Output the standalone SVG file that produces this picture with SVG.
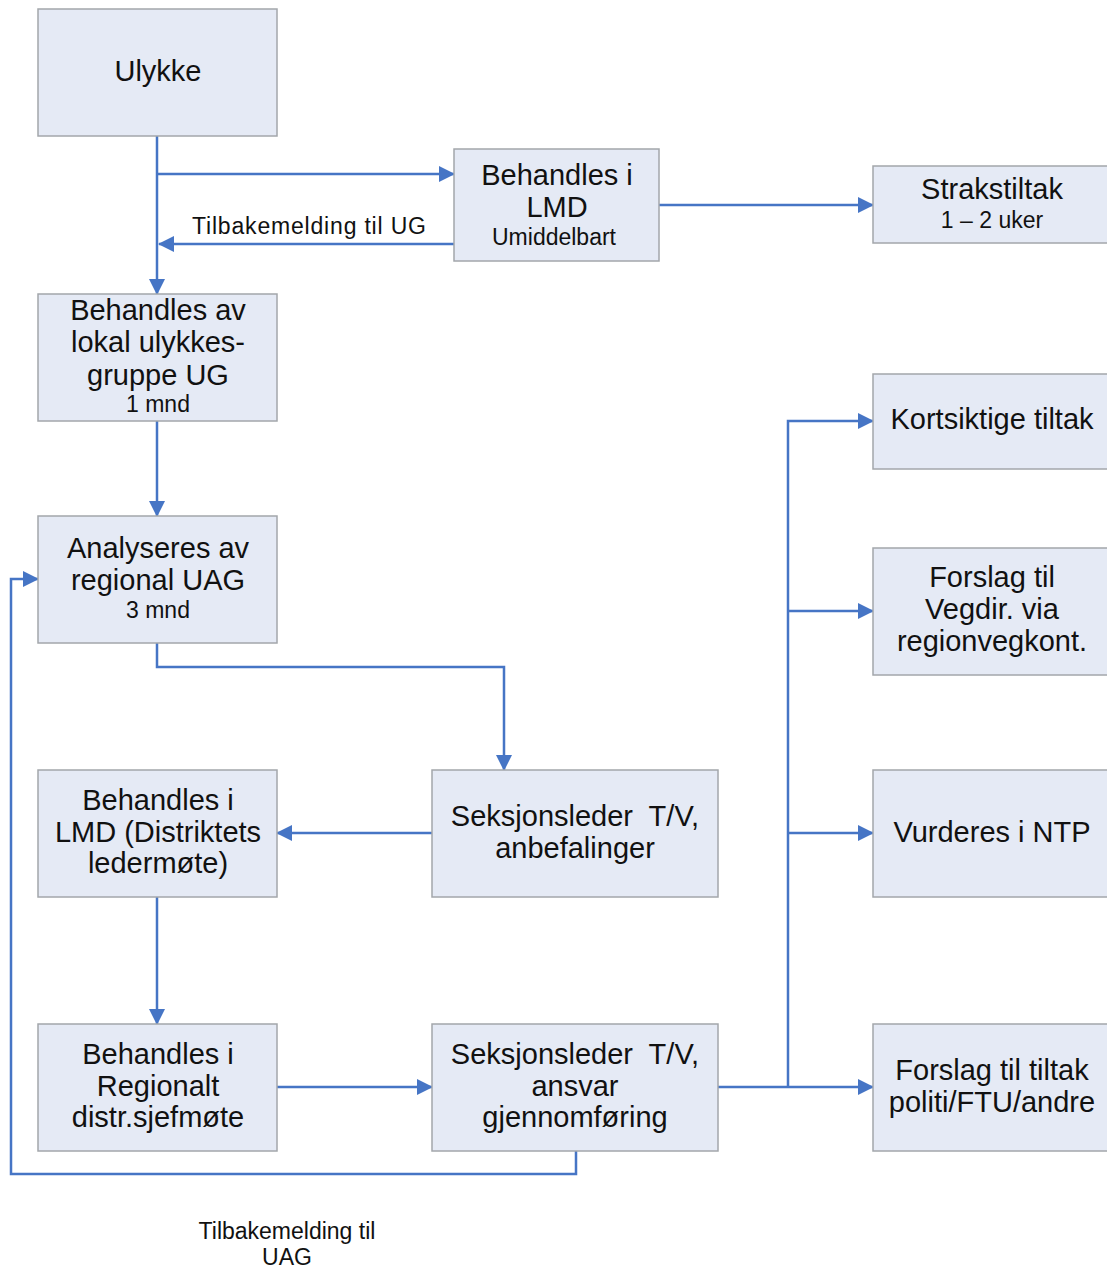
<svg xmlns="http://www.w3.org/2000/svg" width="1107" height="1270" viewBox="0 0 1107 1270">
<style>
.box{fill:#E5EAF5;stroke:#A3A6AB;stroke-width:1.5}
.t{font-family:"Liberation Sans",Arial,sans-serif;font-size:29px;fill:#111;text-anchor:middle}
.s{font-family:"Liberation Sans",Arial,sans-serif;font-size:23px;fill:#111;text-anchor:middle}
.c{fill:none;stroke:#4675C5;stroke-width:2.5}
</style>
<defs>
<marker id="ah" markerWidth="16" markerHeight="16" refX="15" refY="8" orient="auto" markerUnits="userSpaceOnUse">
<path d="M0,0 L16,8 L0,16 Z" fill="#4675C5"/>
</marker>
</defs>
<rect width="1107" height="1270" fill="#fff"/>
<g id="connectors">
<path class="c" d="M157,136 V294" marker-end="url(#ah)"/>
<path class="c" d="M157,174 H454" marker-end="url(#ah)"/>
<path class="c" d="M454,244 H159" marker-end="url(#ah)"/>
<path class="c" d="M659,205 H873" marker-end="url(#ah)"/>
<path class="c" d="M157,421 V516" marker-end="url(#ah)"/>
<path class="c" d="M157,643 V667 H504 V770" marker-end="url(#ah)"/>
<path class="c" d="M432,833 H277" marker-end="url(#ah)"/>
<path class="c" d="M157,897 V1024" marker-end="url(#ah)"/>
<path class="c" d="M277,1087 H432" marker-end="url(#ah)"/>
<path class="c" d="M718,1087 H873" marker-end="url(#ah)"/>
<path class="c" d="M788,1087 V421 H873" marker-end="url(#ah)"/>
<path class="c" d="M788,611 H873" marker-end="url(#ah)"/>
<path class="c" d="M788,833 H873" marker-end="url(#ah)"/>
<path class="c" d="M576,1151 V1174 H11 V579 H38" marker-end="url(#ah)"/>
<text class="s" x="309" y="234" textLength="234">Tilbakemelding til UG</text>
<text class="s" x="287" y="1239">Tilbakemelding til</text>
<text class="s" x="287" y="1265">UAG</text>
</g>
<g id="ulykke"><rect class="box" x="38" y="9" width="239" height="127"/><text class="t" x="158" y="81">Ulykke</text></g>
<g id="lmd1"><rect class="box" x="454" y="149" width="205" height="112"/><text class="t" x="557" y="185">Behandles i</text><text class="t" x="557" y="217">LMD</text><text class="s" x="554" y="245">Umiddelbart</text></g>
<g id="strakstiltak"><rect class="box" x="873" y="166" width="240" height="77"/><text class="t" x="992" y="199">Strakstiltak</text><text class="s" x="992" y="228">1 – 2 uker</text></g>
<g id="lokal"><rect class="box" x="38" y="294" width="239" height="127"/><text class="t" x="158" y="320">Behandles av</text><text class="t" x="158" y="352">lokal ulykkes-</text><text class="t" x="158" y="385">gruppe UG</text><text class="s" x="158" y="412">1 mnd</text></g>
<g id="kortsiktige"><rect class="box" x="873" y="374" width="240" height="95"/><text class="t" x="992" y="429">Kortsiktige tiltak</text></g>
<g id="analyseres"><rect class="box" x="38" y="516" width="239" height="127"/><text class="t" x="158" y="558">Analyseres av</text><text class="t" x="158" y="590">regional UAG</text><text class="s" x="158" y="618">3 mnd</text></g>
<g id="vegdir"><rect class="box" x="873" y="548" width="240" height="127"/><text class="t" x="992" y="587">Forslag til</text><text class="t" x="992" y="619">Vegdir. via</text><text class="t" x="992" y="651">regionvegkont.</text></g>
<g id="lmd2"><rect class="box" x="38" y="770" width="239" height="127"/><text class="t" x="158" y="810">Behandles i</text><text class="t" x="158" y="842">LMD (Distriktets</text><text class="t" x="158" y="873">ledermøte)</text></g>
<g id="seksjon1"><rect class="box" x="432" y="770" width="286" height="127"/><text class="t" x="575" y="826" xml:space="preserve">Seksjonsleder  T/V,</text><text class="t" x="575" y="858">anbefalinger</text></g>
<g id="ntp"><rect class="box" x="873" y="770" width="240" height="127"/><text class="t" x="992" y="842">Vurderes i NTP</text></g>
<g id="regionalt"><rect class="box" x="38" y="1024" width="239" height="127"/><text class="t" x="158" y="1064">Behandles i</text><text class="t" x="158" y="1096">Regionalt</text><text class="t" x="158" y="1127">distr.sjefmøte</text></g>
<g id="seksjon2"><rect class="box" x="432" y="1024" width="286" height="127"/><text class="t" x="575" y="1064" xml:space="preserve">Seksjonsleder  T/V,</text><text class="t" x="575" y="1096">ansvar</text><text class="t" x="575" y="1127">gjennomføring</text></g>
<g id="politi"><rect class="box" x="873" y="1024" width="240" height="127"/><text class="t" x="992" y="1080">Forslag til tiltak</text><text class="t" x="992" y="1112">politi/FTU/andre</text></g>
</svg>
